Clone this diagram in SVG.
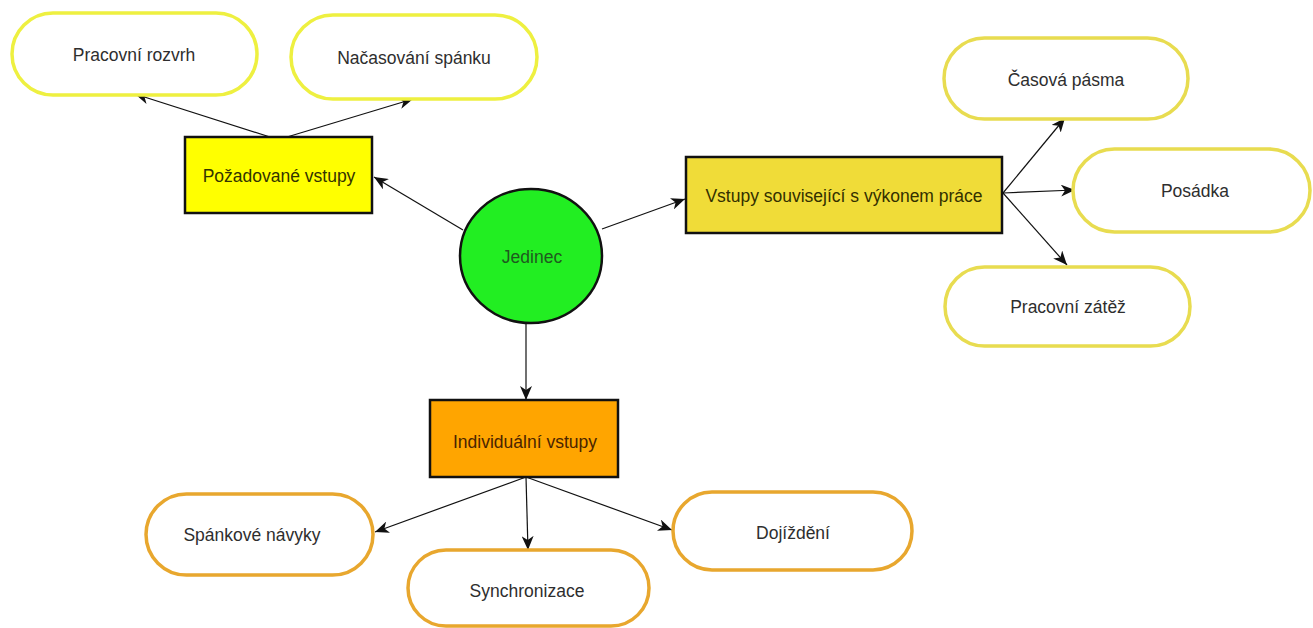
<svg xmlns="http://www.w3.org/2000/svg" width="1313" height="628" viewBox="0 0 1313 628">
  <style>
    text { font-family: "Liberation Sans", Arial, sans-serif; font-size: 17.5px; text-anchor: middle; dominant-baseline: central; }
    .pill { fill: #ffffff; stroke-width: 3.5; }
    .lemon { stroke: #eef040; }
    .gold { stroke: #e8dc50; }
    .amber { stroke: #e8a72e; }
    .box { stroke: #111111; stroke-width: 2.5; }
    .pill-text { fill: #2e2e2e; }
    .edge { stroke: #111111; stroke-width: 1.2; fill: none; marker-end: url(#arrow); }
  </style>
  <defs>
    <marker id="arrow" markerUnits="userSpaceOnUse" markerWidth="15" markerHeight="12" refX="14" refY="6" orient="auto">
      <path d="M0,0 L14,6 L0,12 L4,6 z" fill="#111111"/>
    </marker>
  </defs>

  <rect width="1313" height="628" fill="#ffffff"/>

  <!-- connectors -->
  <g id="connectors">
    <line class="edge" x1="270" y1="137" x2="135" y2="94"/>
    <line class="edge" x1="287" y1="137" x2="413" y2="99"/>
    <line class="edge" x1="463" y1="230" x2="374" y2="177"/>
    <line class="edge" x1="602" y1="229" x2="685" y2="199"/>
    <line class="edge" x1="526" y1="323" x2="526" y2="400"/>
    <line class="edge" x1="1003" y1="193" x2="1065" y2="118"/>
    <line class="edge" x1="1003" y1="193" x2="1075" y2="190"/>
    <line class="edge" x1="1003" y1="193" x2="1067" y2="265"/>
    <line class="edge" x1="526" y1="477" x2="375" y2="532"/>
    <line class="edge" x1="526" y1="477" x2="528" y2="550"/>
    <line class="edge" x1="526" y1="477" x2="672" y2="530"/>
  </g>

  <!-- central node -->
  <g id="jedinec">
    <ellipse cx="531" cy="256" rx="71" ry="67" fill="#22ee22" class="box"/>
    <text x="532" y="257" fill="#1f5a1f">Jedinec</text>
  </g>

  <!-- category boxes -->
  <g id="pozadovane-vstupy">
    <rect x="185" y="137" width="187" height="76" fill="#ffff00" class="box"/>
    <text x="279" y="176" fill="#333300">Požadované vstupy</text>
  </g>
  <g id="vstupy-vykon">
    <rect x="686" y="157" width="316" height="76" fill="#f0dc38" class="box"/>
    <text x="844" y="196" fill="#333000">Vstupy související s výkonem práce</text>
  </g>
  <g id="individualni-vstupy">
    <rect x="430" y="400" width="188" height="77" fill="#ffa500" class="box"/>
    <text x="525" y="442" fill="#4a2400">Individuální vstupy</text>
  </g>

  <!-- leaf nodes -->
  <g id="pracovni-rozvrh">
    <rect class="pill lemon" x="12" y="13" width="245" height="82" rx="41"/>
    <text class="pill-text" x="134" y="55">Pracovní rozvrh</text>
  </g>
  <g id="nacasovani-spanku">
    <rect class="pill lemon" x="291" y="15" width="246" height="84" rx="42"/>
    <text class="pill-text" x="414" y="58">Načasování spánku</text>
  </g>
  <g id="casova-pasma">
    <rect class="pill gold" x="944" y="38" width="244" height="81" rx="40.5"/>
    <text class="pill-text" x="1066" y="80">Časová pásma</text>
  </g>
  <g id="posadka">
    <rect class="pill gold" x="1073" y="149" width="237" height="83" rx="41.5"/>
    <text class="pill-text" x="1195" y="191">Posádka</text>
  </g>
  <g id="pracovni-zatez">
    <rect class="pill gold" x="945" y="267" width="245" height="79" rx="39.5"/>
    <text class="pill-text" x="1068" y="307">Pracovní zátěž</text>
  </g>
  <g id="spankove-navyky">
    <rect class="pill amber" x="146" y="494" width="227" height="81" rx="40.5"/>
    <text class="pill-text" x="252" y="535">Spánkové návyky</text>
  </g>
  <g id="synchronizace">
    <rect class="pill amber" x="408" y="550" width="241" height="76" rx="38"/>
    <text class="pill-text" x="527" y="591">Synchronizace</text>
  </g>
  <g id="dojizdeni">
    <rect class="pill amber" x="673" y="492" width="239" height="78" rx="39"/>
    <text class="pill-text" x="793" y="533">Dojíždění</text>
  </g>
</svg>
